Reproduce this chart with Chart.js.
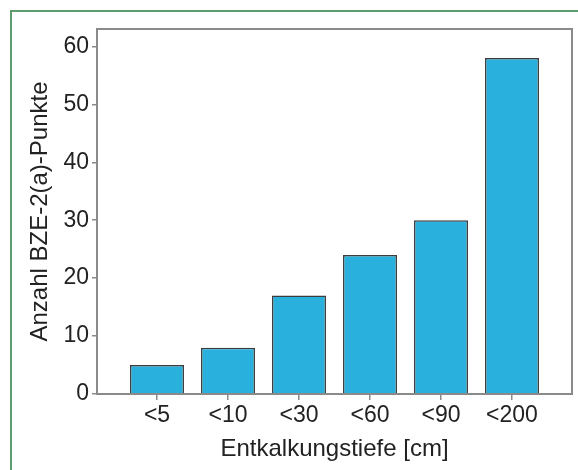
<!DOCTYPE html>
<html>
<head>
<meta charset="utf-8">
<script src="https://cdn.jsdelivr.net/npm/chart.js@4"></script>
<style>
  html, body { margin: 0; padding: 0; background: #ffffff; }
  #wrap { position: relative; width: 578px; height: 470px; }
  #frame { position: absolute; left: 10px; top: 10px; right: 0; bottom: 0;
           border-left: 2px solid #5e9b6d; border-top: 2px solid #5e9b6d; }
  canvas { position: absolute; left: 0; top: 0; }
</style>
</head>
<body>
<div id="wrap">
  <div id="frame"></div>
  <canvas id="c" width="578" height="470"></canvas>
</div>
<script>
const categories = ["<5", "<10", "<30", "<60", "<90", "<200"];
const counts = [5, 8, 17, 24, 30, 58];
const yTicks = [0, 10, 20, 30, 40, 50, 60];
const xTitle = "Entkalkungstiefe [cm]";
const yTitle = "Anzahl BZE-2(a)-Punkte";

const FONT = 'Liberation Sans, Arial, sans-serif';

const frameBox = {
  id: 'frameBox',
  afterDatasetsDraw(chart) {
    const a = chart.chartArea, ctx = chart.ctx;
    ctx.save();
    ctx.strokeStyle = '#8a8a8a';
    ctx.lineWidth = 2;
    ctx.strokeRect(a.left, a.top, a.right - a.left, a.bottom - a.top);
    ctx.restore();
  }
};

new Chart(document.getElementById('c'), {
  type: 'bar',
  data: {
    datasets: [{
      data: categories.map((c, i) => ({ x: i, y: counts[i] })),
      backgroundColor: '#2ab0dc',
      borderColor: '#3c3c3c',
      borderWidth: 1.5,
      categoryPercentage: 1,
      barPercentage: 0.76
    }]
  },
  options: {
    responsive: false,
    animation: false,
    layout: { padding: { left: 0, right: 6, top: 29, bottom: 0 } },
    plugins: { legend: { display: false }, tooltip: { enabled: false } },
    scales: {
      x: {
        type: 'linear',
        offset: false,
        min: -0.845,
        max: 5.845,
        afterBuildTicks: s => { s.ticks = categories.map((_, i) => ({ value: i })); },
        afterFit: s => { s.height = 76; },
        border: { display: false },
        grid: { offset: false, drawOnChartArea: false, tickLength: 6, tickColor: '#8a8a8a', lineWidth: 1.5 },
        ticks: {
          callback: v => categories[v],
          font: { family: FONT, size: 23 },
          color: '#222222',
          padding: 2,
          maxRotation: 0
        },
        title: {
          display: true,
          text: xTitle,
          font: { family: FONT, size: 24 },
          color: '#222222',
          padding: { top: 0, bottom: 6 }
        }
      },
      y: {
        min: 0,
        max: 63,
        afterBuildTicks: s => { s.ticks = yTicks.map(v => ({ value: v })); },
        afterFit: s => { s.width = 97; },
        border: { display: false },
        grid: { drawOnChartArea: false, tickLength: 5, tickColor: '#8a8a8a', lineWidth: 1.5 },
        ticks: {
          font: { family: FONT, size: 23 },
          color: '#222222',
          padding: 3
        },
        title: {
          display: true,
          text: yTitle,
          font: { family: FONT, size: 24 },
          color: '#222222',
          padding: { top: 26, bottom: 0 }
        }
      }
    }
  },
  plugins: [frameBox]
});
</script>
</body>
</html>
